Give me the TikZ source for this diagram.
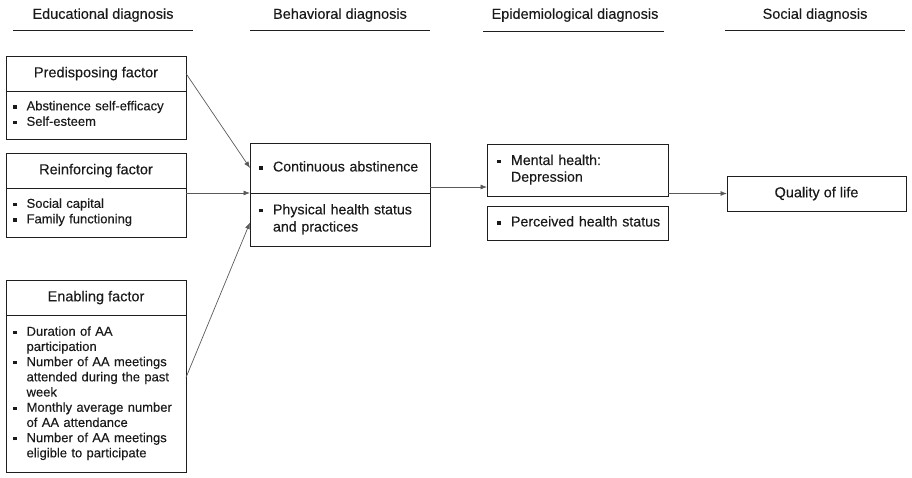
\documentclass[tikz,border=0pt]{standalone}
\usepackage{fontspec}
\setmainfont{Liberation Sans}[FakeBold=0.25]
\usetikzlibrary{arrows.meta}
\definecolor{lc}{HTML}{1E1E1E}
\definecolor{tc}{HTML}{1A1A1A}
\definecolor{ac}{HTML}{5A5A5A}
\newcommand{\bsq}{\raisebox{0.13em}{\rule{3.2pt}{3.2pt}}}
\begin{document}
\begin{tikzpicture}[x=1pt,y=-1pt,
  box/.style={draw=lc, line width=0.8pt, outer sep=0pt, text=tc},
  ttl/.style={box, inner sep=0pt, text height=10.5pt, text depth=2.9pt, font=\fontsize{14.5}{17}\selectfont},
  lstL/.style={box, inner ysep=0pt, inner xsep=7.4pt, text width=165.2pt, font=\fontsize{13}{15.5}\selectfont},
  lstB/.style={box, inner ysep=0pt, inner xsep=9.4pt, font=\fontsize{14.2}{17.2}\selectfont},
  hdr/.style={inner sep=0pt, text=tc, text height=10.5pt, text depth=2.9pt, font=\fontsize{14.5}{17}\selectfont},
  uline/.style={draw=lc, line width=0.8pt},
  arr/.style={draw=ac, line width=0.7pt, -{Latex[length=6.5pt,width=5pt]}}]
\useasboundingbox (0,0) rectangle (912,477);

% headers
\node[hdr] (h1) at (103,15) {Educational diagnosis};
\node[hdr] (h2) at (340,15) {Behavioral diagnosis};
\node[hdr] (h3) at (575,15) {Epidemiological diagnosis};
\node[hdr] (h4) at (815,15) {Social diagnosis};
\draw[uline] (13,30) -- (193,30);
\draw[uline] (250,30) -- (430,30);
\draw[uline] (483,31) -- (664,31);
\draw[uline] (725,30) -- (905,30);

% educational
\node[ttl, minimum width=180pt, minimum height=35pt] (pt) at (96,73.5) {Predisposing factor};
\node[lstL, minimum height=48pt] (pb) at (96,115) {\noindent\begin{tabular}{@{}l@{\hspace{10pt}}l@{}}
\bsq & Abstinence self-efficacy\\
\bsq & Self-esteem
\end{tabular}};
\node[ttl, minimum width=180pt, minimum height=35pt] (rt) at (96,170.5) {Reinforcing factor};
\node[lstL, minimum height=49pt] (rb) at (96,212.5) {\noindent\begin{tabular}{@{}l@{\hspace{10pt}}l@{}}
\bsq & Social capital\\
\bsq & Family functioning
\end{tabular}};
\node[ttl, minimum width=180pt, minimum height=35pt] (et) at (96,297.5) {Enabling factor};
\node[lstL, minimum height=157pt, font=\fontsize{13}{15.2}\selectfont] (eb) at (96,393.5) {\noindent\begin{tabular}{@{}l@{\hspace{10pt}}l@{}}
\bsq & Duration of AA\\
     & participation\\
\bsq & Number of AA meetings\\
     & attended during the past\\
     & week\\
\bsq & Monthly average number\\
     & of AA attendance\\
\bsq & Number of AA meetings\\
     & eligible to participate
\end{tabular}};

% behavioral
\node[lstB, text width=161.2pt, minimum height=50pt] (ba) at (340,168) {\noindent\begin{tabular}{@{}l@{\hspace{10.4pt}}l@{}}
\bsq & Continuous abstinence
\end{tabular}};
\node[lstB, text width=161.2pt, minimum height=53pt] (bp) at (340,219.5) {\noindent\begin{tabular}{@{}l@{\hspace{10.4pt}}l@{}}
\bsq & Physical health status\\
     & and practices
\end{tabular}};

% epidemiological
\node[lstB, inner xsep=10.4pt, text width=160.2pt, minimum height=52pt, font=\fontsize{14.2}{16.7}\selectfont] (mh) at (577.5,170) {\noindent\begin{tabular}{@{}l@{\hspace{10.4pt}}l@{}}
\bsq & Mental health:\\
     & Depression
\end{tabular}};
\node[lstB, inner xsep=10.4pt, text width=160.2pt, minimum height=34pt] (ph) at (577.5,223) {\noindent\begin{tabular}{@{}l@{\hspace{10.4pt}}l@{}}
\bsq & Perceived health status
\end{tabular}};

% social
\node[ttl, minimum width=179pt, minimum height=35pt] (ql) at (816.5,193.5) {Quality of life};

% connectors
\draw[arr] (pt.east) -- (ba.west);
\draw[arr] (ba.south west -| rb.east) -- (ba.south west);
\draw[arr] ([yshift=16pt]eb.east) -- ([yshift=-3pt]bp.west);
\draw[arr] ([yshift=-19pt]ba.east) -- ([yshift=-19pt]ba.east -| mh.west);
\draw[arr] (ql.west -| mh.east) -- (ql.west);
\end{tikzpicture}
\end{document}
